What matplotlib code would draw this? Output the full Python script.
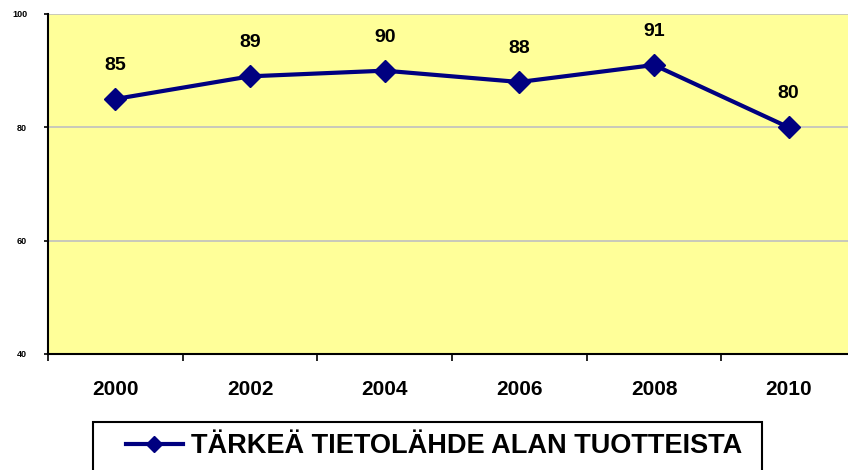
import matplotlib
matplotlib.use('Agg')
import matplotlib.pyplot as plt
from matplotlib.patches import Rectangle

years = ['2000', '2002', '2004', '2006', '2008', '2010']
values = [85, 89, 90, 88, 91, 80]
series_name = 'TÄRKEÄ TIETOLÄHDE ALAN TUOTTEISTA'
yticks = [40, 60, 80, 100]

plt.rcParams['font.family'] = ['Liberation Sans', 'DejaVu Sans']

fig = plt.figure(figsize=(8.48, 4.70), dpi=100)
ax = fig.add_axes([48 / 848, 1 - 354 / 470, 808 / 848, 340 / 470])
ax.set_facecolor('#ffff99')

x = list(range(len(years)))
line, = ax.plot(x, values, color='#000080', lw=3, marker='D', ms=11,
                label=series_name, zorder=3, clip_on=False)
for xi, v in zip(x, values):
    ax.annotate(str(v), (xi, v), xytext=(0, 24), textcoords='offset points',
                ha='center', va='center', fontsize=14, fontweight='bold')

ax.set_xlim(-0.5, len(years) - 0.5)
ax.set_ylim(40, 100)
ax.set_yticks(yticks)
ax.set_yticklabels([str(t) for t in yticks], fontsize=6.5, fontweight='bold')
ax.set_xticks([i + 0.5 for i in range(-1, len(years))])
ax.set_xticklabels([])
ax.set_xticks(x, minor=True)
ax.set_xticklabels(years, minor=True, fontsize=15, fontweight='bold')
ax.tick_params(axis='x', which='minor', length=0, pad=18.5)
ax.tick_params(axis='x', which='major', length=5, width=1.2, direction='out')
ax.tick_params(axis='y', length=3, width=1.2, direction='out', pad=12)
ax.yaxis.grid(True, color='#c0c0c0', lw=1.2)
ax.set_axisbelow(True)
for s in ['top', 'right']:
    ax.spines[s].set_visible(False)
for s in ['left', 'bottom']:
    ax.spines[s].set_linewidth(1.5)
    ax.spines[s].set_zorder(4)

# legend box runs off the bottom of the image like in the original
fig.patches.append(Rectangle((93 / 848, -0.05), (762 - 93) / 848,
                             1 - 422 / 470 + 0.05, transform=fig.transFigure,
                             fill=False, edgecolor='black', lw=1.5))
leg = fig.legend(handles=[line], loc='center left',
                 bbox_to_anchor=(126 / 848, 1 - 446 / 470), borderaxespad=0,
                 prop={'size': 19.5, 'weight': 'bold'}, frameon=False,
                 handlelength=2.1, handletextpad=0.3, borderpad=0)
leg.legend_handles[0].set_markersize(8)

fig.savefig('out.png', dpi=100)
